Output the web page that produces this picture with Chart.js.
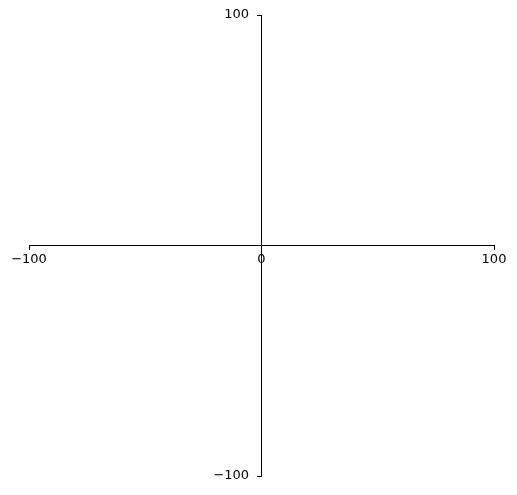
<!DOCTYPE html>
<html>
<head>
<meta charset="utf-8">
<script src="https://cdn.jsdelivr.net/npm/chart.js@4"></script>
<style>
  body { margin: 0; background: #fff; }
</style>
</head>
<body>
<canvas id="myChart" width="517" height="495"></canvas>
<script>
const xRange = [-100, 100];
const yRange = [-100, 100];
const xTicks = [-100, 0, 100];
const yTicks = [-100, 100];
const points = []; // nothing plotted, axes only

const fmt = v => (v < 0 ? '\u2212' + Math.abs(v) : String(v));

const ctx = document.getElementById('myChart');
new Chart(ctx, {
  type: 'scatter',
  data: {
    datasets: [{ data: points }]
  },
  options: {
    responsive: false,
    animation: false,
    layout: { padding: { left: 29, right: 23, top: 15, bottom: 19 } },
    plugins: { legend: { display: false }, tooltip: { enabled: false } },
    scales: {
      x: {
        type: 'linear',
        position: { y: 0 },
        min: xRange[0], max: xRange[1],
        afterBuildTicks: s => { s.ticks = xTicks.map(v => ({ value: v })); },
        grid: { drawOnChartArea: false, drawTicks: true, tickLength: 4, color: '#000', tickColor: '#000' },
        border: { display: true, color: '#000', width: 1 },
        ticks: {
          color: '#000', padding: 2, maxRotation: 0, autoSkip: false,
          font: { family: 'DejaVu Sans', size: 13 },
          callback: v => fmt(v)
        }
      },
      y: {
        type: 'linear',
        position: { x: 0 },
        min: yRange[0], max: yRange[1],
        afterBuildTicks: s => { s.ticks = yTicks.map(v => ({ value: v })); },
        grid: { drawOnChartArea: false, drawTicks: true, tickLength: 4, color: '#000', tickColor: '#000' },
        border: { display: true, color: '#000', width: 1 },
        ticks: {
          color: '#000', autoSkip: false,
          font: { family: 'DejaVu Sans', size: 13 },
          // centred axes ignore ticks.padding, so pad with trailing spaces
          callback: v => fmt(v) + '   '
        }
      }
    }
  }
});
</script>
</body>
</html>
